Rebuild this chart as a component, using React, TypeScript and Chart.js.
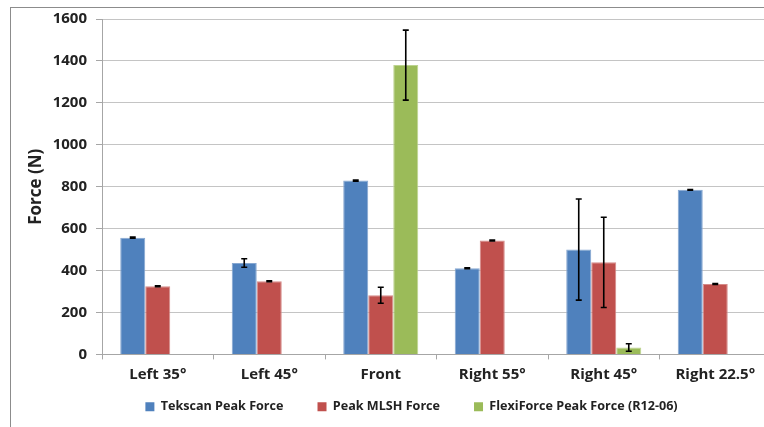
import React, { useEffect, useRef } from 'react';
import { Chart, registerables } from 'chart.js';

Chart.register(...registerables);

const categories = ['Left 35°', 'Left 45°', 'Front', 'Right 55°', 'Right 45°', 'Right 22.5°'];
const seriesNames = ['Tekscan Peak Force', 'Peak MLSH Force', 'FlexiForce Peak Force (R12-06)'];
const seriesColors = ['#4F81BD', '#C0504D', '#9BBB59'];
const seriesEdges = ['#86a7d1', '#d58a88', '#bcd38f'];
const tekscan = [557, 436, 829, 411, 500, 785];
const tekscanErr = [3, 20, 3, 2, 241, 2];
const mlsh = [325, 349, 282, 543, 439, 336];
const mlshErr = [2, 2, 38, 2, 215, 2];
const flexi = [null, null, 1380, null, 33, null];
const flexiErr = [null, null, 167, null, 18, null];
const yMin = 0;
const yMax = 1600;
const yStep = 200;
const yTitle = 'Force (N)';

const errorSets = [tekscanErr, mlshErr, flexiErr];

const FONT = '"Open Sans", "DejaVu Sans", sans-serif';
const TEXT = '#222222';

const errorBarPlugin = {
  id: 'errorBars',
  afterDatasetsDraw(chart: any) {
    const ctx = chart.ctx;
    const yScale = chart.scales.y;
    chart.data.datasets.forEach((ds: any, i: number) => {
      const meta = chart.getDatasetMeta(i);
      const errs = errorSets[i];
      meta.data.forEach((el: any, j: number) => {
        const v = ds.data[j];
        const e = errs[j];
        if (v == null || e == null) return;
        const x = el.x;
        const top = yScale.getPixelForValue(v + e);
        const bot = yScale.getPixelForValue(Math.max(v - e, yMin));
        ctx.save();
        ctx.strokeStyle = '#000';
        ctx.lineWidth = 1.6;
        ctx.beginPath();
        ctx.moveTo(x, top);
        ctx.lineTo(x, bot);
        ctx.moveTo(x - 3, top);
        ctx.lineTo(x + 3, top);
        ctx.moveTo(x - 3, bot);
        ctx.lineTo(x + 3, bot);
        ctx.stroke();
        ctx.restore();
      });
    });
  },
};

const legendShiftPlugin = {
  id: 'legendShift',
  afterLayout(chart: any) {
    const l = chart.legend;
    if (l) {
      l.left += 26;
      l.right += 26;
    }
  },
};

export default function App() {
  const ref = useRef<HTMLCanvasElement | null>(null);

  useEffect(() => {
    if (!ref.current) return;
    const datasets = [tekscan, mlsh, flexi].map((data, i) => ({
      label: seriesNames[i],
      data,
      backgroundColor: seriesColors[i],
      borderColor: seriesEdges[i],
      borderWidth: 1,
      categoryPercentage: 0.673,
      barPercentage: 1,
    }));
    const chart = new Chart(ref.current, {
      type: 'bar',
      data: { labels: categories, datasets },
      options: {
        responsive: false,
        animation: false,
        devicePixelRatio: 1,
        layout: { padding: { top: 19, left: 0, right: 0, bottom: 4 } },
        plugins: {
          tooltip: { enabled: false },
          legend: {
            position: 'bottom',
            labels: {
              boxWidth: 9,
              boxHeight: 9,
              padding: 34,
              color: TEXT,
              font: { family: FONT, size: 12.6, weight: 'bold' },
              generateLabels: (chart: any) =>
                chart.data.datasets.map((ds: any, i: number) => ({
                  text: ds.label,
                  fillStyle: seriesColors[i],
                  strokeStyle: seriesColors[i],
                  lineWidth: 0,
                  fontColor: TEXT,
                  hidden: false,
                  datasetIndex: i,
                })),
            },
          },
        },
        scales: {
          x: {
            grid: { drawOnChartArea: false, tickLength: 5, color: '#a6a6a6', offset: true },
            border: { color: '#a6a6a6' },
            ticks: {
              padding: 6,
              maxRotation: 0,
              autoSkip: false,
              color: TEXT,
              font: { family: FONT, size: 15, weight: 'bold' },
            },
            afterFit: (s: any) => {
              s.height = 12;
              s._computeLabelArea = () => null;
            },
          },
          y: {
            min: yMin,
            max: yMax,
            ticks: {
              stepSize: yStep,
              padding: 9,
              color: TEXT,
              font: { family: FONT, size: 15, weight: 'bold' },
              callback: (v: any) => String(v),
            },
            grid: { color: '#c4c4c4', tickLength: 6, tickColor: '#a6a6a6' },
            border: { color: '#a6a6a6' },
            title: {
              display: true,
              text: yTitle,
              color: TEXT,
              padding: { top: 26, bottom: 0 },
              font: { family: FONT, size: 17, weight: 'bold' },
            },
            afterFit: (s: any) => {
              s.width = 102;
            },
          },
        },
      },
      plugins: [errorBarPlugin, legendShiftPlugin],
    } as any);
    return () => chart.destroy();
  }, []);

  return (
    <div
      style={{
        position: 'absolute',
        left: 0,
        top: 0,
        width: 764,
        height: 427,
        overflow: 'hidden',
        background: '#fff',
      }}
    >
      <div
        style={{
          position: 'absolute',
          left: 10,
          top: 7,
          width: 800,
          height: 500,
          borderTop: '1px solid #8c8c8c',
          borderLeft: '1px solid #8c8c8c',
        }}
      />
      <canvas
        ref={ref}
        width={771}
        height={427}
        style={{ position: 'absolute', left: 0, top: 0, width: 771, height: 427 }}
      />
    </div>
  );
}
